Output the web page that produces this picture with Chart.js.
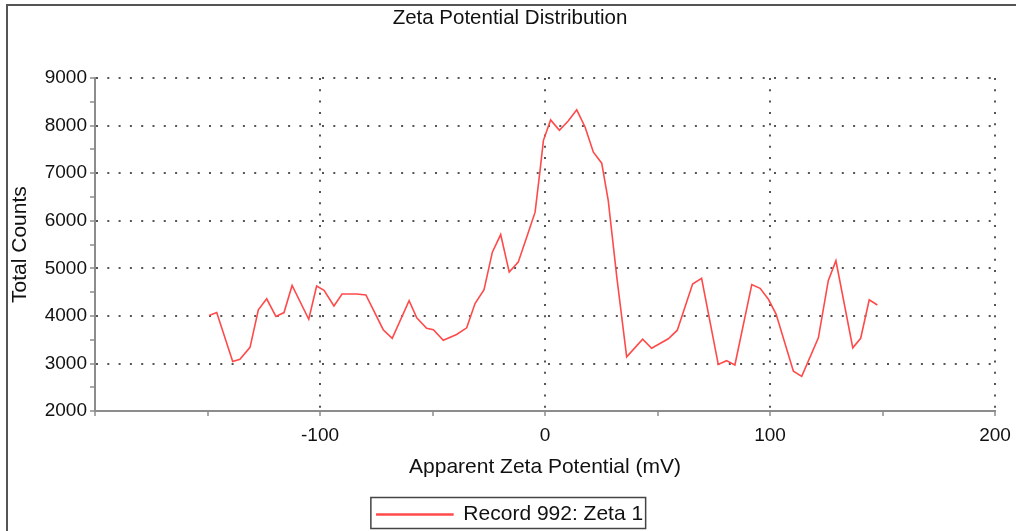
<!DOCTYPE html>
<html lang="en">
<head>
  <meta charset="UTF-8">
  <title>Zeta Potential Distribution</title>
  <script src="https://cdn.jsdelivr.net/npm/chart.js"></script>
  <style>
    html, body {
      margin: 0;
      padding: 0;
      background: #fff;
    }
    .wrap {
      position: relative;
      width: 1016px;
      height: 531px;
    }
    .frame {
      position: absolute;
      left: 6px;
      top: 4px;
      right: 0;
      bottom: 0;
      border-top: 2px solid #555;
      border-left: 2px solid #555;
    }
    canvas {
      position: absolute;
      left: 0;
      top: 0;
    }
  </style>
</head>
<body>
<div class="wrap">
  <div class="frame"></div>
  <canvas id="zetaChart" width="1016" height="531"></canvas>
</div>

<script>
  // zeta potential (mV) and total counts
  const zeta = [
    -149.3, -145.9, -138.8, -135.6, -131.1, -127.4, -123.7, -119.6, -116.0, -112.4,
    -105.0, -101.5, -98.2, -93.8, -90.2, -83.7, -79.6, -71.9, -67.9, -60.4,
    -57.0, -52.6, -49.6, -45.2, -39.3, -34.8, -31.1, -27.1, -23.4, -19.7,
    -15.9, -11.9, -8.1, -4.4, -2.2, -0.7, 2.5, 6.4, 10.4, 14.1,
    17.8, 21.5, 25.2, 28.1, 31.9, 36.3, 43.4, 47.4, 51.1, 54.8,
    58.8, 65.6, 69.6, 77.0, 80.7, 84.4, 91.9, 95.6, 99.3, 102.7,
    110.4, 114.1, 121.5, 125.9, 129.3, 136.8, 140.3, 144.1, 147.7
  ];
  const counts = [
    4010, 4070, 3040, 3090, 3340, 4130, 4360, 3990, 4070, 4640,
    3930, 4630, 4540, 4210, 4460, 4460, 4440, 3710, 3530, 4320,
    3960, 3740, 3710, 3490, 3610, 3750, 4260, 4550, 5340, 5710,
    4920, 5130, 5660, 6180, 7060, 7690, 8120, 7900, 8100, 8330,
    7970, 7440, 7210, 6430, 4820, 3140, 3510, 3320, 3420, 3520,
    3700, 4670, 4790, 2980, 3060, 2970, 4660, 4580, 4350, 4040,
    2840, 2730, 3540, 4740, 5160, 3330, 3530, 4340, 4230
  ];
  const seriesName = 'Record 992: Zeta 1';
  const xTickLabels = [-100, 0, 100, 200];
  const yTickLabels = [2000, 3000, 4000, 5000, 6000, 7000, 8000, 9000];

  const font = 'Arial, "Liberation Sans", sans-serif';
  const axisGrey = '#8c8c8c';
  const dotGrey = '#555';

  // box around the legend
  const legendBox = {
    id: 'legendBox',
    afterDraw(chart) {
      const lg = chart.legend;
      if (!lg || !lg.legendHitBoxes.length) return;
      const hb = lg.legendHitBoxes[0];
      const ctx = chart.ctx;
      ctx.save();
      ctx.strokeStyle = '#444';
      ctx.lineWidth = 1.5;
      ctx.strokeRect(hb.left - 6, hb.top - 6.5, hb.width + 8.5, 31);
      ctx.restore();
    }
  };

  const points = zeta.map((x, i) => ({ x: x, y: counts[i] }));

  new Chart(document.getElementById('zetaChart'), {
    type: 'line',
    data: {
      datasets: [{
        label: seriesName,
        data: points,
        borderColor: '#ff4a4a',
        backgroundColor: '#ff7070',
        borderWidth: 1.6,
        pointRadius: 0,
        tension: 0,
        fill: false
      }]
    },
    options: {
      responsive: false,
      animation: false,
      devicePixelRatio: 1,
      layout: { padding: { left: 4, right: 0, top: 0, bottom: -4 } },
      plugins: {
        title: {
          display: true,
          text: 'Zeta Potential Distribution',
          color: '#111',
          font: { family: font, size: 20.5, weight: 'normal' },
          padding: { top: 6, bottom: 47.4 }
        },
        legend: {
          display: true,
          position: 'bottom',
          labels: {
            color: '#111',
            font: { family: font, size: 21 },
            boxWidth: 76,
            boxHeight: 1,
            padding: 0
          }
        },
        tooltip: { enabled: false }
      },
      scales: {
        x: {
          type: 'linear',
          min: -200,
          max: 200,
          afterBuildTicks(scale) {
            const t = [];
            for (let v = -200; v <= 200; v += 50) t.push({ value: v });
            scale.ticks = t;
          },
          afterFit(scale) {
            scale.paddingRight = 21;
          },
          ticks: {
            autoSkip: false,
            maxRotation: 0,
            color: '#111',
            padding: 8,
            font: { family: font, size: 19 },
            callback: (v) => xTickLabels.includes(v) ? String(v) : ''
          },
          grid: {
            color: (c) => (c.tick && c.tick.value % 100 === 0) ? dotGrey : 'rgba(0,0,0,0)',
            lineWidth: 2,
            tickColor: axisGrey,
            tickLength: 5,
            tickWidth: 1.5
          },
          border: { display: true, color: axisGrey, width: 2, dash: [2, 9.3] },
          title: {
            display: true,
            text: 'Apparent Zeta Potential (mV)',
            color: '#111',
            font: { family: font, size: 21 },
            padding: { top: 0, bottom: 23.9 }
          }
        },
        y: {
          min: 2000,
          max: 9000,
          afterBuildTicks(scale) {
            const t = [];
            for (let v = 2000; v <= 9000; v += 500) t.push({ value: v });
            scale.ticks = t;
          },
          afterFit(scale) {
            scale.width = 91;
          },
          ticks: {
            autoSkip: false,
            color: '#111',
            padding: 3,
            font: { family: font, size: 19 },
            callback: (v) => yTickLabels.includes(v) ? String(v) : ''
          },
          grid: {
            color: (c) => (c.tick && c.tick.value % 1000 === 0) ? dotGrey : 'rgba(0,0,0,0)',
            lineWidth: 2,
            tickColor: axisGrey,
            tickLength: 5,
            tickWidth: 1.5
          },
          border: { display: true, color: axisGrey, width: 2, dash: [2, 9.3] },
          title: {
            display: true,
            text: 'Total Counts',
            color: '#111',
            font: { family: font, size: 21 },
            padding: { top: 3.4, bottom: 8 }
          }
        }
      }
    },
    plugins: [legendBox]
  });
</script>
</body>
</html>
